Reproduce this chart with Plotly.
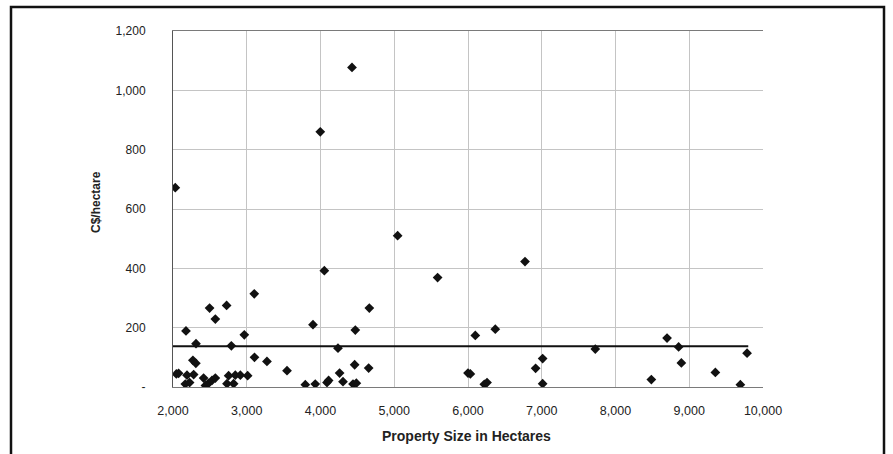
import plotly.graph_objects as go

# Property sales: size (hectares) vs. price per hectare (C$)
size_ha = [
    2031, 2045, 2076, 2167, 2176, 2190, 2225, 2270, 2280, 2310, 2312,
    2415, 2440, 2480, 2496, 2529, 2574, 2574, 2727, 2732, 2754, 2791,
    2822, 2845, 2913, 2967, 3012, 3102, 3105, 3274, 3546, 3794, 3898,
    3929, 3997, 4052, 4088, 4110, 4237, 4259, 4305, 4427, 4441, 4463,
    4472, 4486, 4653, 4662, 5046, 5588, 6000, 6032, 6099, 6221, 6258,
    6370, 6773, 6917, 7012, 7012, 7726, 8486, 8699, 8856, 8893, 9354,
    9693, 9784,
]
price_per_ha = [
    672, 44, 46, 10, 189, 40, 15, 90, 42, 80, 146,
    30, 5, 12, 266, 22, 30, 229, 275, 11, 38, 139,
    11, 40, 40, 176, 38, 314, 100, 86, 55, 8, 210,
    10, 860, 392, 15, 22, 131, 47, 18, 1077, 10, 75,
    192, 13, 64, 266, 510, 369, 47, 44, 174, 9, 15,
    195, 423, 63, 96, 11, 128, 25, 165, 135, 81, 49,
    8, 114,
]

# Average price line across the sampled size range
avg_line_x = [2000, 9800]
avg_line_y = [137, 137]

x_ticks = [2000, 3000, 4000, 5000, 6000, 7000, 8000, 9000, 10000]
x_tick_text = ["2,000", "3,000", "4,000", "5,000", "6,000", "7,000", "8,000", "9,000", "10,000"]
y_ticks = [0, 200, 400, 600, 800, 1000, 1200]
y_tick_text = ["-", "200", "400", "600", "800", "1,000", "1,200"]

fig = go.Figure()
fig.add_trace(go.Scatter(
    x=avg_line_x, y=avg_line_y, mode="lines",
    line=dict(color="#111111", width=2), hoverinfo="skip",
))
fig.add_trace(go.Scatter(
    x=size_ha, y=price_per_ha, mode="markers",
    marker=dict(symbol="diamond", size=7.5, color="#111111"),
))

W, H = 893, 454
L, R, T, B = 173, 130, 31, 67
pw, ph = W - L - R, H - T - B

def px(xp):
    return (xp - L) / pw

def py(yp):
    return (H - B - yp) / ph

fig.update_layout(
    width=W, height=H,
    margin=dict(l=L, r=R, t=T, b=B),
    paper_bgcolor="white", plot_bgcolor="white",
    showlegend=False,
    font=dict(family="Liberation Sans, Arial, sans-serif", size=12, color="#222222"),
    xaxis=dict(
        range=[2000, 10000], tickvals=x_ticks, ticktext=x_tick_text,
        showgrid=True, gridcolor="#c4c4c4", gridwidth=1,
        showline=True, linecolor="#7a7a7a", linewidth=1,
        mirror=True, ticks="", ticklabelstandoff=12, zeroline=False,
        tickfont=dict(size=12.5),
    ),
    yaxis=dict(
        range=[0, 1200], tickvals=y_ticks, ticktext=y_tick_text,
        showgrid=True, gridcolor="#c4c4c4", gridwidth=1,
        showline=True, linecolor="#555555", linewidth=1,
        mirror=False, ticks="", ticklabelstandoff=24, zeroline=False,
        tickfont=dict(size=12),
    ),
    annotations=[
        dict(text="<b>Property Size in Hectares</b>", xref="paper", yref="paper",
             x=px(466), y=py(436), showarrow=False, font=dict(size=14),
             xanchor="center", yanchor="middle"),
        dict(text="<b>C$/hectare</b>", xref="paper", yref="paper",
             x=px(96), y=py(202), showarrow=False, font=dict(size=12),
             textangle=-90, xanchor="center", yanchor="middle"),
    ],
    shapes=[
        dict(type="rect", xref="paper", yref="paper",
             x0=px(11), x1=px(884), y0=py(462), y1=py(7),
             line=dict(color="#111111", width=2.5), fillcolor="rgba(0,0,0,0)",
             layer="above"),
    ],
)

fig.write_html("out.html")
